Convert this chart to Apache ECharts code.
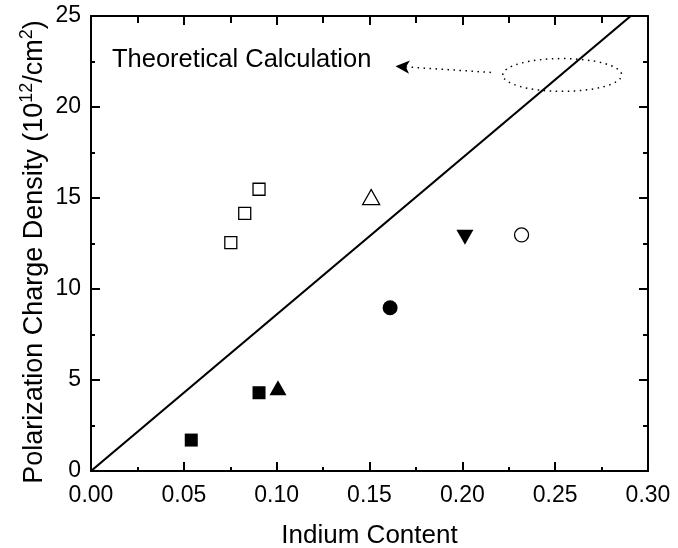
<!DOCTYPE html>
<html>
<head>
<meta charset="utf-8">
<script src="https://cdn.jsdelivr.net/npm/echarts@6/dist/echarts.min.js"></script>
<style>html,body{margin:0;padding:0;background:#fff}#c{width:678px;height:548px}</style>
</head>
<body>
<div id="c"></div>
<script>
// ---- data ----
const xTickLabels = ['0.00','0.05','0.10','0.15','0.20','0.25','0.30'];
const yTickLabels = ['0','5','10','15','20','25'];
const theoryLine = [[0, 0], [0.2907, 25]];
const filledSquares = [[0.054, 1.7], [0.0905, 4.3]];
const openSquares = [[0.0753, 12.55], [0.0828, 14.16], [0.0905, 15.48]];
const filledTriangle = [[0.1007, 4.57]];
const openTriangle = [[0.1509, 15.05]];
const filledDownTriangle = [[0.2014, 12.85]];
const filledCircle = [[0.1611, 8.97]];
const openCircle = [[0.2319, 12.97]];
// annotation: ellipse [cx, cy, width, height] and arrow [from, to]
const ellipseNote = [[0.2538, 21.76, 0.064, 1.8]];
const arrowNote = [[0.2154, 21.9], [0.164, 22.24]];
const noteText = 'Theoretical Calculation';
const xTitle = 'Indium Content';
const yTitleRich = '{a|Polarization Charge Density (10}{s|12}{a|/cm}{s|2}{a|)}';

const FONT = '"Liberation Sans", Arial, Helvetica, sans-serif';
const chart = echarts.init(document.getElementById('c'), null, {renderer: 'canvas'});

const axisCommon = {
  min: 0,
  axisLine: {show: true, onZero: false, lineStyle: {color: '#000', width: 2}},
  splitLine: {show: false},
};

function scatter(data, symbol, filled, size, rotate) {
  return {
    type: 'scatter', data: data, symbol: symbol, symbolSize: size,
    symbolRotate: rotate || 0, silent: true, z: 5,
    itemStyle: filled ? {color: '#000', opacity: 1}
                      : {color: '#fff', borderColor: '#000', borderWidth: 1.3, opacity: 1}
  };
}

chart.setOption({
  animation: false,
  backgroundColor: '#fff',
  grid: {left: 91, right: 30, top: 16, bottom: 77, containLabel: false, outerBoundsMode: 'none'},
  xAxis: [
    Object.assign({}, axisCommon, {
      type: 'value', max: 0.3, interval: 0.05, position: 'bottom',
      name: xTitle, nameLocation: 'middle', nameGap: 52,
      nameTextStyle: {fontFamily: FONT, fontSize: 26, color: '#000'},
      axisTick: {show: true, inside: true, length: 9, lineStyle: {color: '#000', width: 2}},
      minorTick: {show: true, splitNumber: 2, length: 4, lineStyle: {color: '#000', width: 2}},
      axisLabel: {fontFamily: FONT, fontSize: 23, color: '#000', margin: 13,
        formatter: function (v) { return xTickLabels[Math.round(v / 0.05)]; }}
    }),
    Object.assign({}, axisCommon, {
      type: 'value', max: 0.3, interval: 0.05, position: 'top',
      axisTick: {show: true, inside: true, length: 9, lineStyle: {color: '#000', width: 2}},
      minorTick: {show: true, splitNumber: 2, length: 7, lineStyle: {color: '#000', width: 2}},
      axisLabel: {show: false}
    })
  ],
  yAxis: [
    Object.assign({}, axisCommon, {
      type: 'value', max: 25, interval: 5, position: 'left',
      axisTick: {show: true, inside: true, length: 9, lineStyle: {color: '#000', width: 2}},
      minorTick: {show: true, splitNumber: 2, length: 4, lineStyle: {color: '#000', width: 2}},
      axisLabel: {fontFamily: FONT, fontSize: 23, color: '#000', margin: 10,
        formatter: function (v) { return yTickLabels[Math.round(v / 5)]; }}
    }),
    Object.assign({}, axisCommon, {
      type: 'value', max: 25, interval: 5, position: 'right',
      axisTick: {show: true, inside: true, length: 9, lineStyle: {color: '#000', width: 2}},
      minorTick: {show: true, splitNumber: 2, length: 5, lineStyle: {color: '#000', width: 2}},
      axisLabel: {show: false}
    })
  ],
  graphic: [
    {
      type: 'text', left: 112, top: 47, silent: true,
      style: {text: noteText, fontFamily: FONT, fontSize: 25.5, fill: '#000'}
    },
    {
      type: 'text', x: 33, y: 252, rotation: Math.PI / 2, silent: true,
      style: {
        text: yTitleRich, align: 'center', verticalAlign: 'middle',
        fontFamily: FONT, fill: '#000',
        rich: {
          a: {fontFamily: FONT, fontSize: 27, fill: '#000', lineHeight: 30, verticalAlign: 'bottom'},
          s: {fontFamily: FONT, fontSize: 18, fill: '#000', lineHeight: 30, verticalAlign: 'top'}
        }
      }
    }
  ],
  series: [
    {
      type: 'line', data: theoryLine, symbol: 'none', silent: true, z: 3,
      lineStyle: {color: '#000', width: 2.2},
      markLine: {
        silent: true, symbol: ['none', 'arrow'], symbolSize: [10, 14],
        label: {show: false},
        lineStyle: {color: '#000', width: 1.5, type: [1.5, 4.5]},
        data: [[{coord: arrowNote[0]}, {coord: arrowNote[1]}]]
      }
    },
    {
      type: 'custom', data: ellipseNote, silent: true, z: 2,
      renderItem: function (params, api) {
        const c = api.coord([api.value(0), api.value(1)]);
        const s = api.size([api.value(2), api.value(3)]);
        return {
          type: 'ellipse',
          shape: {cx: c[0], cy: c[1], rx: s[0] / 2, ry: s[1] / 2},
          style: {fill: null, stroke: '#000', lineWidth: 1.5, lineDash: [1.5, 4.5]}
        };
      }
    },
    scatter(filledSquares, 'rect', true, 13),
    scatter(openSquares, 'rect', false, 12),
    scatter(filledTriangle, 'triangle', true, [17, 15]),
    scatter(openTriangle, 'triangle', false, [17, 15]),
    scatter(filledDownTriangle, 'triangle', true, [17, 15], 180),
    scatter(filledCircle, 'circle', true, 15),
    scatter(openCircle, 'circle', false, 14)
  ]
});
</script>
</body>
</html>
